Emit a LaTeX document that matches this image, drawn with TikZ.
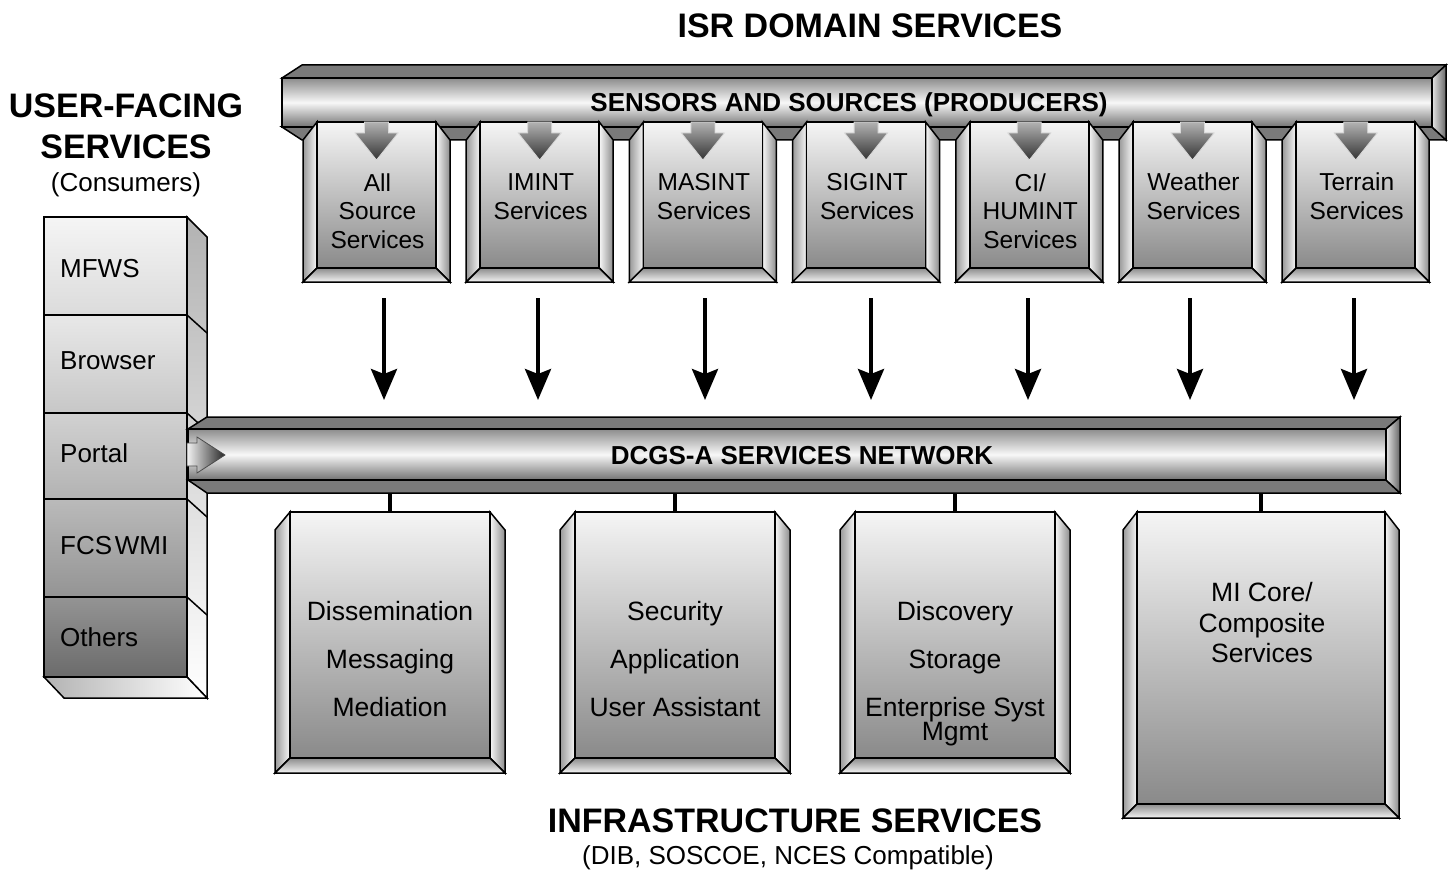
\documentclass[tikz,border=0pt]{standalone}
\usepackage{fontspec}
\setmainfont{Liberation Sans}
\usetikzlibrary{arrows.meta,calc}
\tikzset{
  outl/.style={draw=black, line width=1.5pt, line join=miter},
  face/.style={outl, top color=black!4, bottom color=black!46},
  lstrip/.style={outl, left color=black!40, right color=black!3},
  rstrip/.style={outl, left color=black!3, right color=black!45},
  bstrip/.style={outl, top color=black!45, bottom color=black!4},
  darkstrip/.style={outl, fill=black!52},
  barface/.style={outl, top color=black!45, bottom color=black!55, middle color=black!3},
  barend/.style={outl, left color=black!10, right color=black!60},
  minarrow/.style={draw=black!15, line width=0.8pt, top color=black!30, bottom color=black!80},
  portarrow/.style={draw=black!70, line width=0.8pt, left color=black!5, right color=black!85},
  bigarrow/.style={line width=4pt, -{Stealth[length=31pt,width=26pt,inset=5pt]}},
  stem/.style={line width=4pt},
  cell/.style={outl, inner sep=0pt, outer sep=0pt, minimum width=143, anchor=north west},
  title/.style={font=\fontsize{34}{41}\selectfont\bfseries, align=center, inner sep=0pt},
  subtitle/.style={font=\fontsize{26}{30}\selectfont, align=center, inner sep=0pt},
  bartxt/.style={font=\fontsize{26}{30}\selectfont\bfseries, inner sep=0pt},
  ptxt/.style={font=\fontsize{24.5}{28.5}\selectfont, align=center, inner sep=0pt},
  btxt/.style={font=\fontsize{26.5}{48}\selectfont, align=center, inner sep=0pt},
  ctxt/.style={font=\fontsize{26.5}{30.5}\selectfont, align=center, inner sep=0pt},
  stxt/.style={font=\fontsize{26}{30}\selectfont, inner sep=0pt, anchor=base west},
}
% #1 name, #2 L, #3 R, #4 outer side top, #5 inner top, #6 outer bottom, #7 bevel
\newcommand\bevbox[7]{%
  \path[lstrip] (#2,#4) -- ({#2+#7},#5) -- ({#2+#7},{#6-#7}) -- (#2,#6) -- cycle;
  \path[rstrip] (#3,#4) -- ({#3-#7},#5) -- ({#3-#7},{#6-#7}) -- (#3,#6) -- cycle;
  \path[bstrip] (#2,#6) -- ({#2+#7},{#6-#7}) -- ({#3-#7},{#6-#7}) -- (#3,#6) -- cycle;
  \node[face, anchor=north west, inner sep=0pt, outer sep=0pt,
        minimum width={#3-#2-2*#7}, minimum height={#6-#7-#5}] (#1) at ({#2+#7},#5) {};
}
\begin{document}
\begin{tikzpicture}[x=1pt,y=-1pt]
\useasboundingbox[fill=white] (0,0) rectangle (1452,872);

% ---------- user-facing stack ----------
\path[outl, top color=black!30, bottom color=white] (187,217) -- (207,237) -- (207,698) -- (187,677) -- cycle;
\path[outl, left color=black!30, right color=white] (44,677) -- (187,677) -- (207,698) -- (64,698) -- cycle;
\foreach \y in {315,413,499,597} \draw[line width=1.5pt] (187,\y) -- (207,\y+18);
\node[cell, minimum height=98, top color=black!4, bottom color=black!14] (mfws) at (44,217) {};
\node[cell, minimum height=98, top color=black!9, bottom color=black!22] (browser) at (44,315) {};
\node[cell, minimum height=86, top color=black!18, bottom color=black!30] (portal) at (44,413) {};
\node[cell, minimum height=98, top color=black!27, bottom color=black!42] (fcs) at (44,499) {};
\node[cell, minimum height=80, top color=black!42, bottom color=black!58] (others) at (44,597) {};
\node[stxt] (mfwst) at (60,277.5) {MFWS};
\node[stxt] (browsert) at (60,369.5) {Browser};
\node[stxt] (portalt) at (60,462.5) {Portal};
\node[stxt] (fcst) at (60,554.5) {FCS\hspace{0.1em}WMI};
\node[stxt] (otherst) at (60,646.5) {Others};

% ---------- network bar ----------
\path[darkstrip] (188,429) -- (207,417) -- (1400,417) -- (1386,429) -- cycle;
\path[darkstrip] (188,480) -- (1386,480) -- (1400,493) -- (207,493) -- cycle;
\path[barend] (1386,429) -- (1400,417) -- (1400,493) -- (1386,480) -- cycle;
\node[barface, anchor=north west, inner sep=0pt, outer sep=0pt, minimum width=1198, minimum height=51] (netface) at (188,429) {};
\node[inner sep=0pt, outer sep=0pt, minimum width=1212, minimum height=76, anchor=north west] (netbar) at (188,417) {};
\node[bartxt, anchor=base] (nettxt) at (802,464) {DCGS-A SERVICES NETWORK};
\path[portarrow] (187,443) -- (197,443) -- (197,437) -- (225,455) -- (197,473) -- (197,466) -- (187,466) -- cycle;

% ---------- producers bar ----------
\path[darkstrip] (282,78) -- (302,65) -- (1446,65) -- (1432,78) -- cycle;
\path[darkstrip] (282,127) -- (1432,127) -- (1446,140) -- (302,140) -- cycle;
\path[barend] (1432,78) -- (1446,65) -- (1446,140) -- (1432,127) -- cycle;
\node[barface, anchor=north west, inner sep=0pt, outer sep=0pt, minimum width=1150, minimum height=49] (topface) at (282,78) {};
\node[bartxt, anchor=base] (toptxt) at (849,112) {SENSORS AND SOURCES (PRODUCERS)};

% ---------- producer boxes and arrows ----------
% text node: anchor base = baseline of last line
\foreach \i/\nm/\txt/\off/\ty in {0/p1/{All\\Source\\Services}/7.5/126,
    1/p2/{IMINT\\Services}/-1.7/97.5, 2/p3/{MASINT\\Services}/2.1/97.5,
    3/p4/{SIGINT\\Services}/4.9/97.5, 4/p5/{CI/\\HUMINT\\Services}/-1.3/126,
    5/p6/{Weather\\Services}/-2.5/97.5, 6/p7/{Terrain\\Services}/-1.7/97.5}{
  \pgfmathsetmacro\L{303+163.2*\i}
  \pgfmathsetmacro\R{\L+147}
  \bevbox{\nm}{\L}{\R}{140}{122}{282}{14}
  \path[minarrow] ([shift={(-12,0)}]\nm.north) -- ([shift={(-12,11)}]\nm.north)
     -- ([shift={(-21.5,11)}]\nm.north) -- ([shift={(0,38)}]\nm.north)
     -- ([shift={(21.5,11)}]\nm.north) -- ([shift={(12,11)}]\nm.north)
     -- ([shift={(12,0)}]\nm.north) -- cycle;
  \node[ptxt, anchor=base] (\nm-t) at ([shift={(1,\ty)}]\nm.north) {\txt};
  \coordinate (\nm-a) at ([shift={(\off,30)}]\nm.south);
  \draw[bigarrow, shorten >=17pt] (\nm-a) -- (\nm-a |- netbar.north);
}

% ---------- infrastructure boxes ----------
\bevbox{b1}{275}{505}{530}{512}{773}{15}
\bevbox{b2}{560}{790}{530}{512}{773}{15}
\bevbox{b3}{840}{1070}{530}{512}{773}{15}
\bevbox{b4}{1123}{1399}{530}{512}{818}{14}
\foreach \b in {b1,b2,b3,b4} \draw[stem] (\b.north) -- (\b.north |- netbar.south);
\node[btxt, anchor=base] (b1t) at ([shift={(0,204.5)}]b1.north) {Dissemination\\Messaging\\Mediation};
\node[btxt, anchor=base] (b2t) at ([shift={(0,204.5)}]b2.north) {Security\\Application\\User Assistant};
\node[btxt, anchor=base] (b3t) at ([shift={(0,228.5)}]b3.north) {Discovery\\Storage\\Enterprise Syst\\[-24pt]Mgmt};
\node[ctxt, anchor=base] (b4t) at ([shift={(1,150.5)}]b4.north) {MI Core/\\Composite\\Services};

% ---------- titles ----------
\node[title, anchor=base] (isr) at (870,37.3) {ISR DOMAIN SERVICES};
\node[title, anchor=base] (user) at (126,159) {USER-FACING\\SERVICES};
\node[subtitle, anchor=base] (cons) at (126,191.5) {(Consumers)};
\node[title, anchor=base] (infra) at (795,832) {INFRASTRUCTURE SERVICES};
\node[subtitle, anchor=base] (dib) at (788,864.5) {(DIB, SOSCOE, NCES Compatible)};
\end{tikzpicture}
\end{document}
